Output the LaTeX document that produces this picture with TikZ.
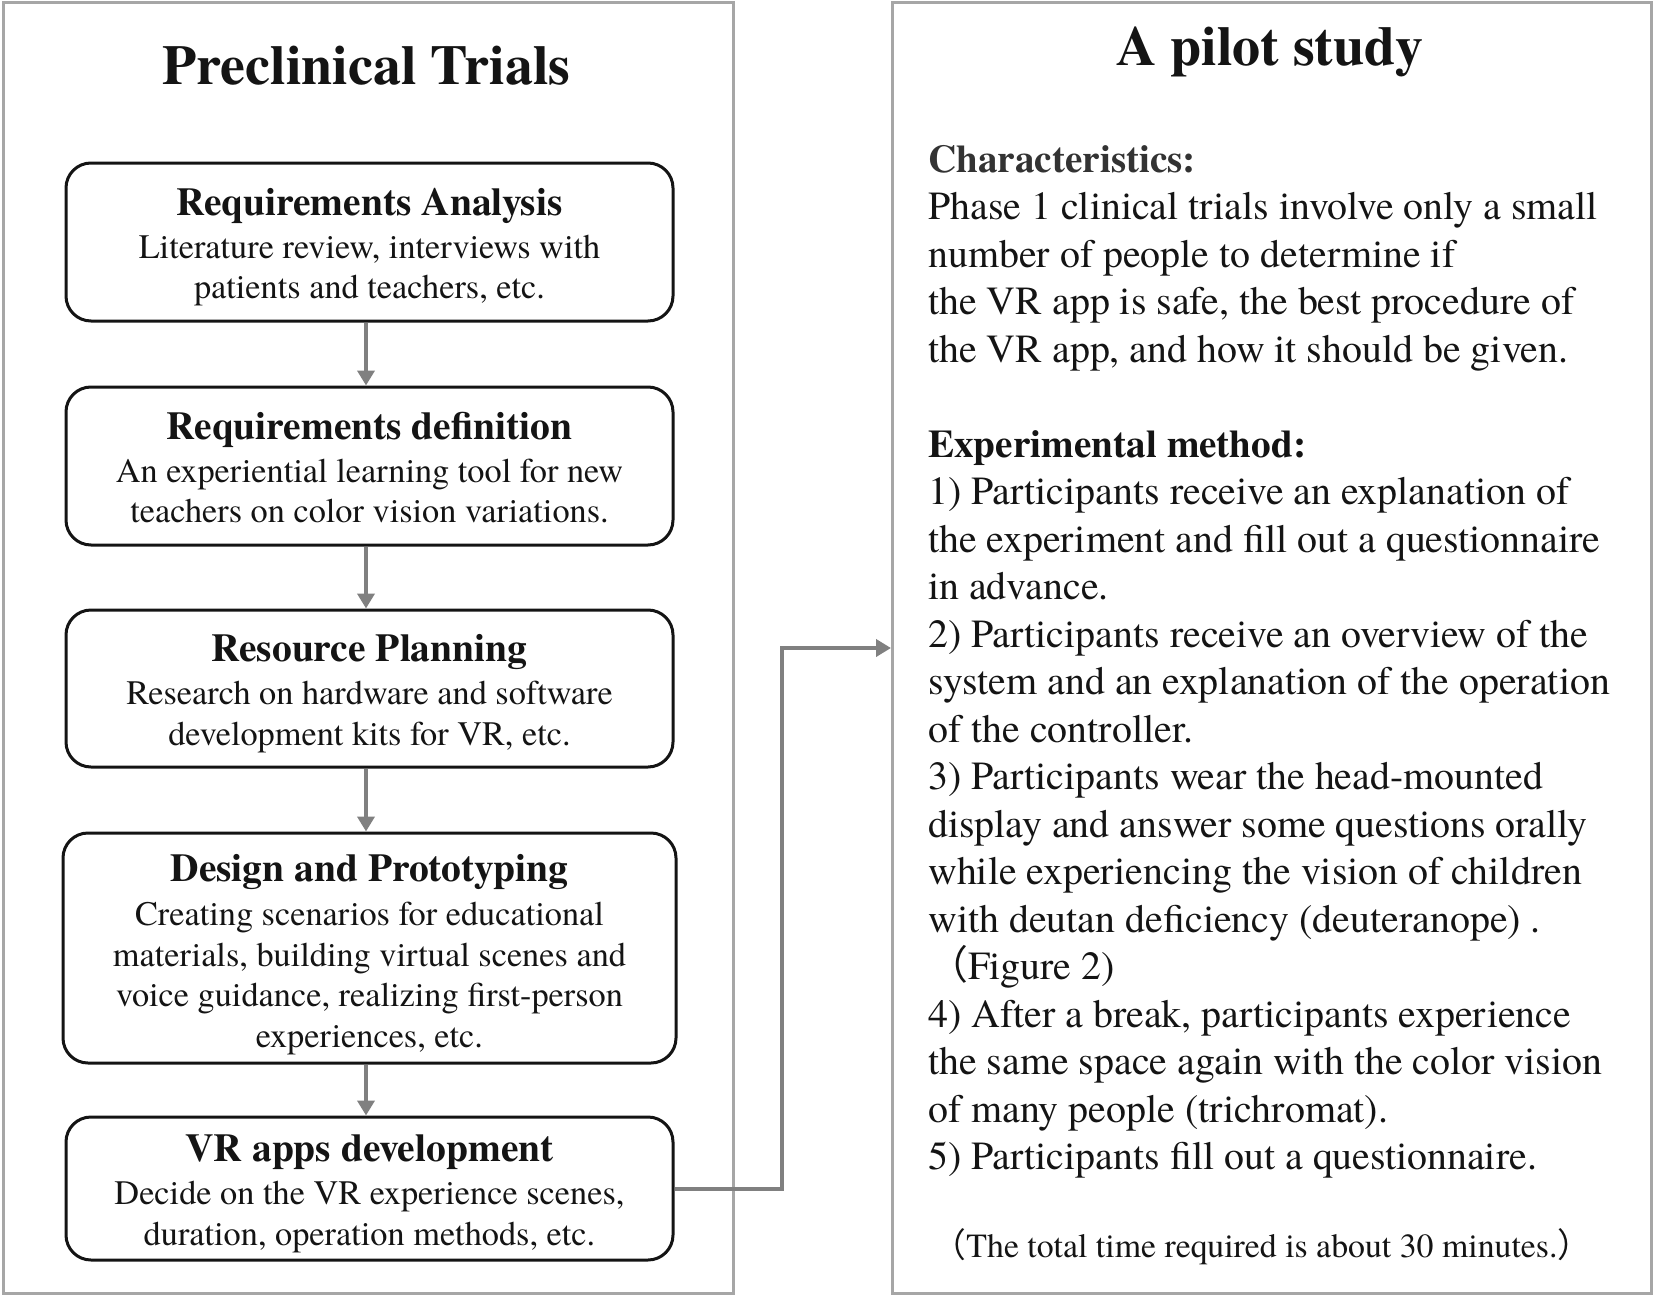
\documentclass[tikz,border=0pt]{standalone}
\usepackage{fontspec}
\setmainfont{texgyretermes-regular.otf}[BoldFont=texgyretermes-bold.otf]
\newfontfamily\cjk{Noto Sans CJK JP}
\usetikzlibrary{arrows.meta}
\definecolor{panelgray}{HTML}{A6A6A6}
\definecolor{arrgray}{HTML}{808080}
\definecolor{headgray}{HTML}{333333}
\definecolor{ink}{HTML}{141414}
\newcommand{\fsz}[1]{\fontsize{#1}{#1}\selectfont}
\begin{document}
\begin{tikzpicture}[x=1pt,y=-1pt,
 panel/.style={draw=panelgray, line width=3pt, inner sep=0pt, anchor=north west},
 stepbox/.style={draw=ink, line width=3pt, rounded corners=25pt, inner sep=0pt},
 ptitle/.style={anchor=base, font=\bfseries\fsz{56}, inner sep=0pt, text=ink},
 btitle/.style={anchor=base, font=\bfseries\fsz{39.5}, inner sep=0pt, text=ink},
 bbody/.style={anchor=base, font=\fsz{34.3}, inner sep=0pt, text=ink},
 rline/.style={anchor=base west, font=\fsz{39.9}, inner sep=0pt, text=ink},
 rhead/.style={anchor=base west, font=\bfseries\fsz{39.2}, inner sep=0pt},
 arr/.style={draw=arrgray, line width=4pt, -{Triangle[width=17pt,length=15pt]}},
]
\useasboundingbox (0,0) rectangle (1654,1295);
\fill[white] (0,0) rectangle (1654,1295);

% panels
\node[panel, minimum width=730.5pt, minimum height=1290.5pt] (lp) at (1.5,1.5) {};
\node[panel, minimum width=759pt, minimum height=1290.5pt] (rp) at (891,1.5) {};
\node[ptitle] (lt) at (366.5,85) {Preclinical Trials};
\node[ptitle] (rt) at (1270,66) {A pilot study};

% boxes
\node[stepbox, minimum width=607pt, minimum height=158pt] (b1) at (369.5,242) {};
\node[stepbox, minimum width=607pt, minimum height=158pt] (b2) at (369.5,466) {};
\node[stepbox, minimum width=607pt, minimum height=157pt] (b3) at (369.5,688.5) {};
\node[stepbox, minimum width=613pt, minimum height=230pt] (b4) at (369.5,948) {};
\node[stepbox, minimum width=607pt, minimum height=143pt] (b5) at (369.5,1188.5) {};

\node[btitle] (b1t) at (369.5,215) {Requirements Analysis};
\node[bbody] (b1a) at (369.5,258) {Literature review, interviews with};
\node[bbody] (b1b) at (369.5,298) {patients and teachers, etc.};

\node[btitle] (b2t) at (369.5,439.5) {Requirements definition};
\node[bbody] (b2a) at (369.5,482.5) {An experiential learning tool for new};
\node[bbody] (b2b) at (369.5,522.5) {teachers on color vision variations.};

\node[btitle] (b3t) at (369.5,661) {Resource Planning};
\node[bbody] (b3a) at (369.5,704) {Research on hardware and software};
\node[bbody] (b3b) at (369.5,745) {development kits for VR, etc.};

\node[btitle] (b4t) at (369.5,881) {Design and Prototyping};
\node[bbody] (b4a) at (369.5,925) {Creating scenarios for educational};
\node[bbody] (b4b) at (369.5,966) {materials, building virtual scenes and};
\node[bbody] (b4c) at (369.5,1006) {voice guidance, realizing first-person};
\node[bbody] (b4d) at (369.5,1047) {experiences, etc.};

\node[btitle] (b5t) at (369.5,1161) {VR apps development};
\node[bbody] (b5a) at (369.5,1204) {Decide on the VR experience scenes,};
\node[bbody] (b5b) at (369.5,1245) {duration, operation methods, etc.};

% arrows
\draw[arr] ([xshift=-3.5pt]b1.south) -- ([xshift=-3.5pt]b2.north);
\draw[arr] ([xshift=-3.5pt]b2.south) -- ([xshift=-3.5pt]b3.north);
\draw[arr] ([xshift=-3.5pt]b3.south) -- ([xshift=-3.5pt]b4.north);
\draw[arr] ([xshift=-3.5pt]b4.south) -- ([xshift=-3.5pt]b5.north);
\coordinate (c1) at (782,648);
\draw[arr] (b5.east) -| (c1) -- (c1 -| rp.west);

% right text
\node[rhead, text=headgray] (r0) at (928,172) {Characteristics:};
\node[rhead, text=ink] (r6) at (928,457) {Experimental method:};
\foreach \k/\t in {
 1/{Phase 1 clinical trials involve only a small},
 2/{number of people to determine if},
 3/{the VR app is safe, the best procedure of},
 4/{the VR app, and how it should be given.},
 7/{1) Participants receive an explanation of},
 8/{the experiment and fill out a questionnaire},
 9/{in advance.},
 10/{2) Participants receive an overview of the},
 11/{system and an explanation of the operation},
 12/{of the controller.},
 13/{3) Participants wear the head-mounted},
 14/{display and answer some questions orally},
 15/{while experiencing the vision of children},
 16/{with deutan deficiency (deuteranope) .},
 17/{{\cjk （}Figure 2)},
 18/{4) After a break, participants experience},
 19/{the same space again with the color vision},
 20/{of many people (trichromat).},
 21/{5) Participants fill out a questionnaire.}}
 \node[rline] (r\k) at (928,{172+47.5*\k}) {\t};

\node[anchor=base, font=\fsz{33.8}, inner sep=0pt, text=ink] (note) at (1262,1257) {{\cjk （}The total time required is about 30 minutes.{\cjk ）}};
\end{tikzpicture}
\end{document}
